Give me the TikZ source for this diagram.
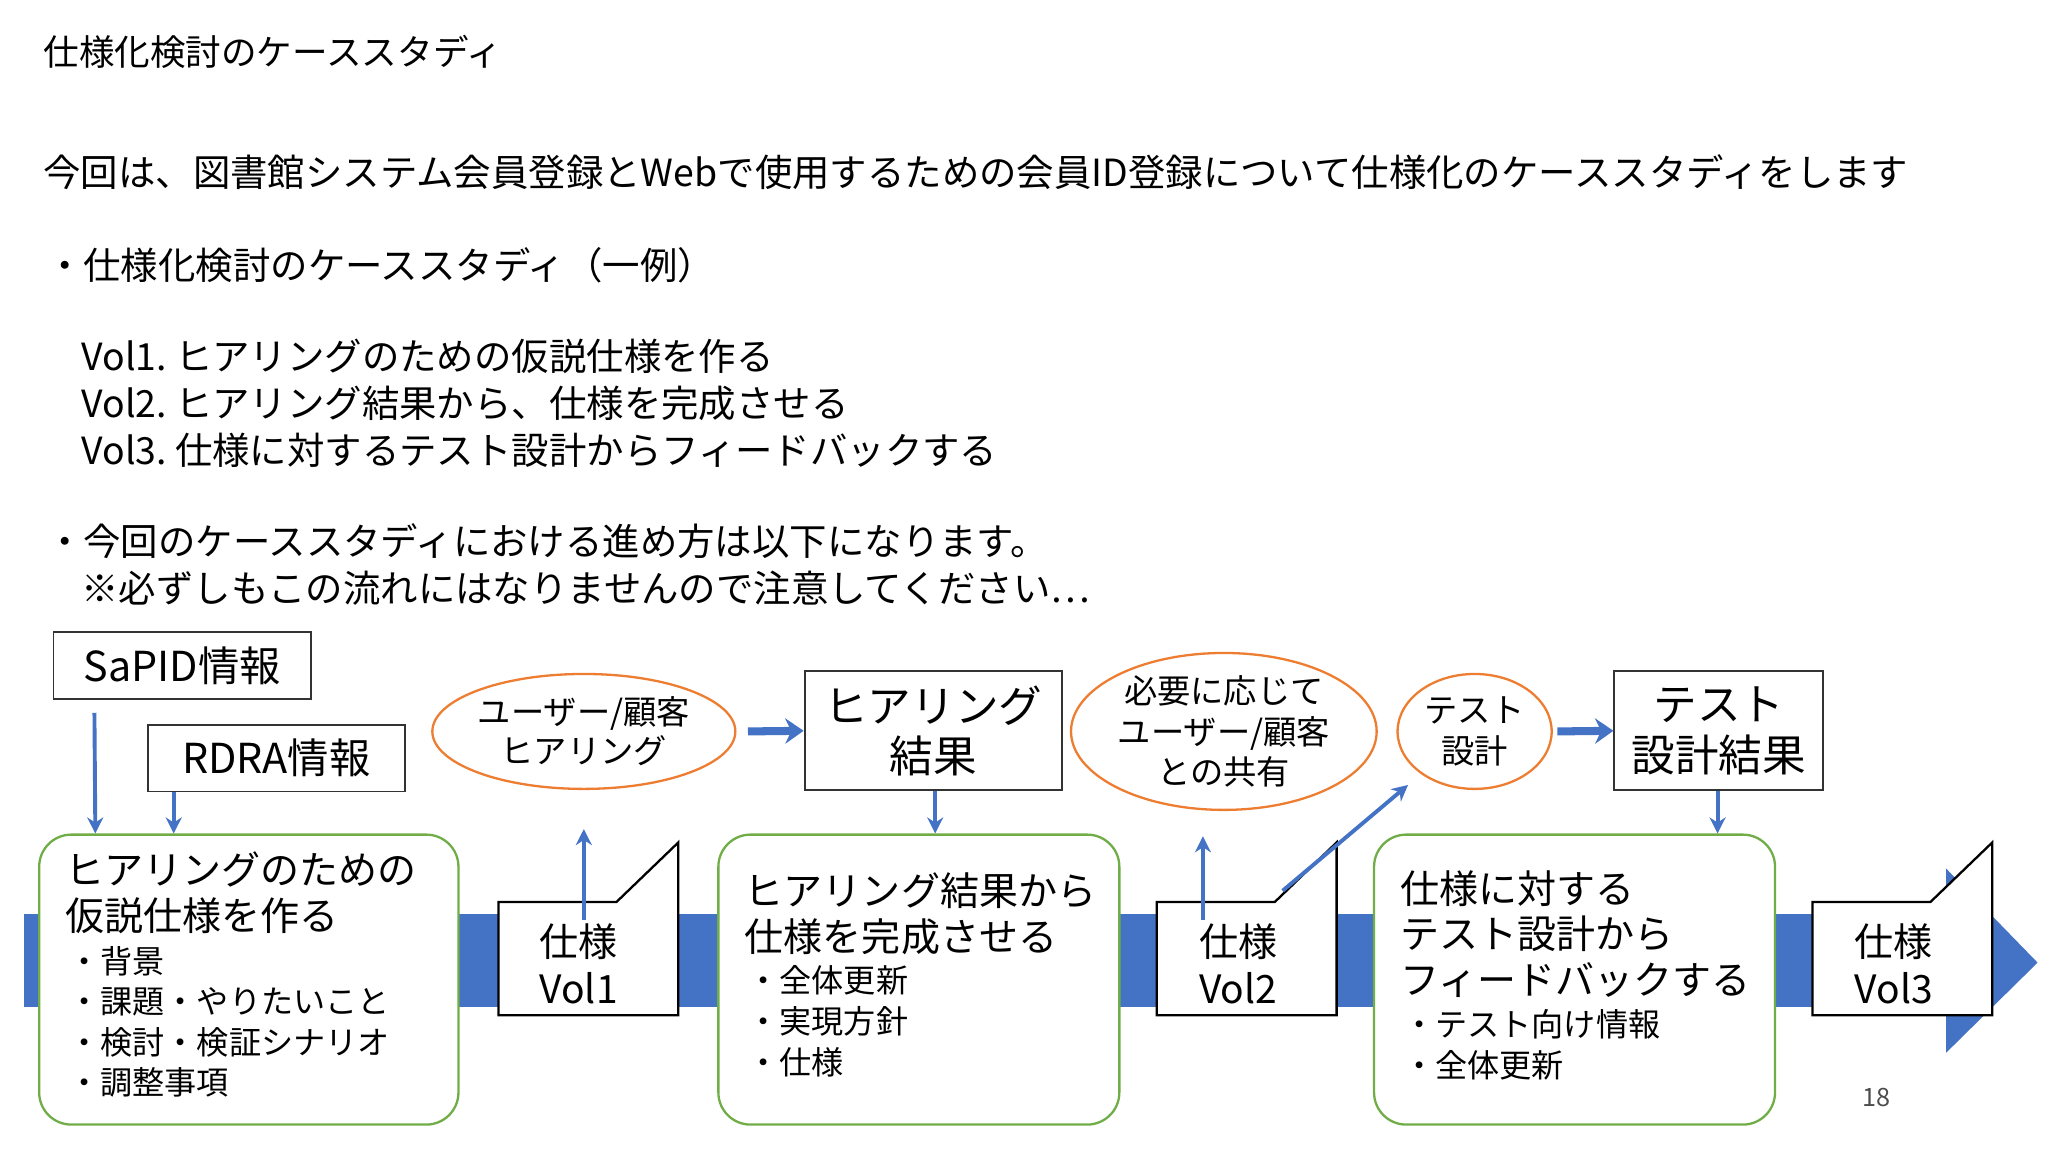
\documentclass[tikz,border=0pt]{standalone}
\usepackage{fontspec}
\setmainfont{Noto Sans CJK JP}
\usetikzlibrary{arrows.meta,calc}
\definecolor{bl}{HTML}{4472C4}
\definecolor{og}{HTML}{ED7D31}
\definecolor{gr}{HTML}{70AD47}
\newcommand\fsz[2]{\fontsize{#1}{#2}\selectfont}
\tikzset{
 txt/.style={anchor=west,inner sep=0pt,align=left},
 arr/.style={draw=bl,line width=1.7pt,-{Stealth[length=7pt,width=7pt]}},
 fatarr/.style={draw=bl,line width=3.5pt,-{Stealth[length=8pt,width=11pt]}},
 infobox/.style={draw=black!80,line width=0.8pt,fill=white,inner sep=0pt},
 gbox/.style={draw=gr,line width=1pt,fill=white,rounded corners=14pt,inner sep=0pt},
 oval/.style={draw=og,line width=1pt,ellipse,fill=white,inner sep=0pt},
 doc/.style={inner sep=0pt,minimum width=137*0.02cm,minimum height=86*0.02cm}
}
\usetikzlibrary{shapes.geometric}
\begin{document}
\begin{tikzpicture}[x=0.02cm,y=-0.02cm]
\useasboundingbox (0,0) rectangle (1568,882);
% texts
\node[txt,font=\fsz{15.5}{18}] (t0) at (33,40) {仕様化検討のケーススタディ};
\node[txt,font=\fsz{16.3}{20}] (t1) at (33,132) {今回は、図書館システム会員登録とWebで使用するための会員ID登録について仕様化のケーススタディをします};
\node[txt,font=\fsz{16.3}{20}] (t2) at (35,203) {・仕様化検討のケーススタディ（一例）};
\node[txt,font=\fsz{16.3}{20.4}] (t3) at (62,309) {Vol1.\ ヒアリングのための仮説仕様を作る\\Vol2.\ ヒアリング結果から、仕様を完成させる\\Vol3.\ 仕様に対するテスト設計からフィードバックする};
\node[txt,font=\fsz{16.3}{20}] (t4) at (35,414) {・今回のケーススタディにおける進め方は以下になります。};
\node[txt,font=\fsz{16.3}{20}] (t5) at (62,450) {※必ずしもこの流れにはなりませんので注意してください…};
% band
\fill[bl] (18,700) rectangle (1490,771);
\fill[bl] (1490,665) -- (1560,737) -- (1490,806) -- cycle;
% top boxes
\node[infobox,minimum width=197*0.02cm,minimum height=51*0.02cm,font=\fsz{18}{20}] (sapid) at (139.5,509.5) {SaPID情報};
\node[infobox,minimum width=197*0.02cm,minimum height=51*0.02cm,font=\fsz{18}{20}] (rdra) at (211.5,580.5) {RDRA情報};
\node[infobox,minimum width=197*0.02cm,minimum height=91*0.02cm,font=\fsz{19}{22},align=center] (hres) at (714.5,559.5) {ヒアリング\\結果};
\node[infobox,minimum width=160*0.02cm,minimum height=91*0.02cm,font=\fsz{19}{22},align=center] (tres) at (1316,559.5) {テスト\\設計結果};
\node[oval,minimum width=232*0.02cm,minimum height=88*0.02cm,font=\fsz{14.5}{17},align=center] (ov1) at (447,560) {ユーザー/顧客\\ヒアリング};
\node[oval,minimum width=234*0.02cm,minimum height=94*0.02cm,font=\fsz{14.5}{17.5},align=center] (ov2) at (937,560) {必要に応じて\\ユーザー/顧客\\との共有};
\node[oval,minimum width=118*0.02cm,minimum height=88*0.02cm,font=\fsz{14.5}{18},align=center] (ov3) at (1129,560) {テスト\\設計};
% green boxes
\node[gbox,minimum width=321*0.02cm,minimum height=222*0.02cm] (g1) at (190.5,750) {};
\node[gbox,minimum width=307*0.02cm,minimum height=222*0.02cm] (g2) at (703.5,750) {};
\node[gbox,minimum width=307*0.02cm,minimum height=222*0.02cm] (g3) at (1205.5,750) {};
\node[txt,font=\fsz{17}{19.8}] (g1a) at (50,683.5) {ヒアリングのための\\仮説仕様を作る};
\node[txt,font=\fsz{14}{17.6}] (g1b) at (52,782.5) {・背景\\・課題・やりたいこと\\・検討・検証シナリオ\\・調整事項};
\node[txt,font=\fsz{17}{19.8}] (g2a) at (570,699.5) {ヒアリング結果から\\仕様を完成させる};
\node[txt,font=\fsz{14}{17.8}] (g2b) at (572,782) {・全体更新\\・実現方針\\・仕様};
\node[txt,font=\fsz{17}{19.8}] (g3a) at (1072,715) {仕様に対する\\テスト設計から\\フィードバックする};
\node[txt,font=\fsz{14}{18}] (g3b) at (1074,800) {・テスト向け情報\\・全体更新};
% docs
\foreach \n/\cx/\lab in {vol1/450.5/Vol1, vol2/954.5/Vol2, vol3/1456.5/Vol3}{
  \node[doc] (\n) at (\cx,734) {};
  \filldraw[fill=white,draw=black,line width=1pt] (\n.north west) -- ([xshift=-27]\n.north east) -- ([yshift=26]\n.north east) -- (\n.south east) -- (\n.south west) -- cycle;
}
\node[font=\fsz{17}{20.4},align=center,inner sep=0pt] (v1t) at (443,738) {仕様\\Vol1};
\node[font=\fsz{17}{20.4},align=center,inner sep=0pt] (v2t) at (948,738) {仕様\\Vol2};
\node[font=\fsz{17}{20.4},align=center,inner sep=0pt] (v3t) at (1450,738) {仕様\\Vol3};
% arrows
\draw[arr] ([shift={(32,10)}]sapid.south west) -- (g1.north -| 73,0);
\draw[arr] (rdra.south -| 133,0) -- (g1.north -| 133,0);
\draw[arr] ([yshift=-8]vol1.north -| 447,0) -- ([yshift=-17]ov1.south);
\draw[fatarr] ([xshift=5]ov1.east) -- (hres.west);
\draw[arr] (hres.south -| 716,0) -- (g2.north -| 716,0);
\draw[arr] ([yshift=-8]vol2.north -| 921,0) -- ([yshift=-11]ov2.south -| 921,0);
\coordinate (dstart) at (982,682);
\coordinate (dend) at (1078,601);
\draw[arr] (dstart) -- (dend);
\draw[fatarr] ([xshift=2]ov3.east) -- (tres.west);
\draw[arr] (tres.south -| 1315,0) -- (g3.north -| 1315,0);
\node[font=\fsz{11}{12},text=black!70,inner sep=0pt] (pg) at (1437,840) {18};
\end{tikzpicture}
\end{document}
